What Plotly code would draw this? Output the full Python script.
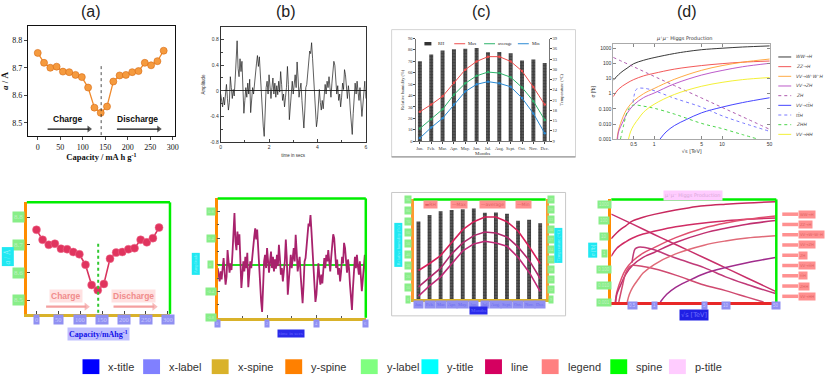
import numpy as np
import plotly.graph_objects as go

W, H = 830, 383
SERIF = "Liberation Serif"
SANS = "Liberation Sans"
SYM = "DejaVu Sans"

# ---------------- (a) lattice parameter during charge / discharge
CAPACITY = [0, 14, 28, 42, 56, 70, 84, 98, 112, 126, 140, 154, 168, 182, 196,
            210, 224, 238, 252, 266, 280]
LATTICE_A = [8.754, 8.718, 8.700, 8.704, 8.686, 8.684, 8.674, 8.666, 8.628, 8.555,
             8.536, 8.559, 8.650, 8.672, 8.674, 8.684, 8.688, 8.718, 8.709, 8.724, 8.762]
CAP_TICKS = [0, 50, 100, 150, 200, 250, 300]
A_TICKS = [8.5, 8.6, 8.7, 8.8]
TURN_CAPACITY = 141
TURN_SPAN = [8.455, 8.715]
CHARGE_ARROW = [22, 114]
DISCHARGE_ARROW = [176, 269]
ARROW_LEVEL = 8.477
LABEL_LEVEL = 8.514

# ---------------- (b) amplitude trace
TIME_S = np.linspace(0, 6, 151)
AMPLITUDE = [
    -0.05, -0.15, -0.25, -0.10, -0.22, -0.05, 0.10, -0.12, -0.30, -0.18, 0.22, 0.05, -0.12,
    0.02, -0.08, 0.18, 0.40, 0.78, 0.35, 0.22, 0.50, 0.30, 0.46, 0.10, -0.35,
    -0.15, 0.05, -0.10, 0.12, -0.05, 0.18, -0.34, -0.12, 0.05, -0.05, 0.15, 0.30, 0.42,
    0.55, 0.38, 0.53, 0.20, -0.10, -0.35, -0.55, -0.71, -0.30, 0.05, 0.15, -0.05,
    0.25, 0.10, -0.12, 0.05, 0.20, -0.05, 0.12, -0.10, 0.08, -0.06, 0.15, -0.02, 0.30,
    0.10, -0.15, -0.05, -0.25, -0.10, 0.05, 0.38, 0.10, -0.45, -0.25, 0.05, 0.15,
    -0.05, 0.10, 0.25, 0.05, 0.45, 0.20, -0.10, 0.02, 0.12, -0.15, -0.35, -0.58, -0.30,
    0.05, 0.10, 0.30, 0.55, 0.62, 0.58, 0.75, 0.50, 0.20, -0.10, -0.35, -0.56,
    -0.45, -0.20, 0.02, -0.18, -0.30, -0.15, -0.28, -0.08, 0.10, -0.05, 0.15, 0.05, 0.22,
    0.05, -0.10, 0.12, 0.30, 0.46, 0.40, 0.15, -0.05, 0.08, -0.15, -0.05, -0.25,
    -0.10, 0.12, 0.02, 0.33, 0.25, 0.05, -0.12, 0.08, -0.05, -0.30, -0.55, -0.68, -0.35,
    -0.05, 0.12, -0.05, 0.15, -0.02, -0.15, 0.05, -0.18, -0.40, -0.22, -0.05, 0.15, -0.12]
TIME_TICKS = [0, 2, 4, 6]
AMP_TICKS = [-0.8, -0.4, 0, 0.4, 0.8]
AMP_TEXT = ["-0.8", "-0.4", "0", "0.4", "0.8"]

# ---------------- (c) climate
MONTHS = ["Jan.", "Feb.", "Mar.", "Apr.", "May.", "Jun.", "Jul.", "Aug.", "Sept.",
          "Oct.", "Nov.", "Dec."]
RH = [70, 76, 79.4, 80.5, 81, 81.7, 78, 78.2, 77, 70.8, 71.6, 68.5]
T_MAX = [17.6, 19.7, 22.1, 26.1, 29.9, 32.3, 33.7, 33.7, 32.3, 29.5, 24.8, 19.7]
T_AVG = [12.7, 15.4, 18.3, 22.6, 25.9, 28.1, 29.2, 28.9, 27.7, 24.7, 20.7, 15.2]
T_MIN = [9.9, 13.0, 15.7, 19.7, 23.5, 25.6, 26.4, 25.9, 24.9, 21.6, 17.1, 11.3]
RH_TICKS = list(range(0, 91, 10))
T_TICKS = list(range(9, 40, 3))

# ---------------- (d) Higgs production cross sections (fb)
WWH_X = [0.25, 0.3, 0.35, 0.4, 0.5, 0.7, 1, 2, 3, 5, 10, 20, 50]
WWH_Y = [7.6, 18, 32, 48, 95, 160, 240, 450, 600, 800, 1000, 1200, 1420]
ZZH_X = [0.25, 0.3, 0.4, 0.5, 0.7, 1, 2, 5, 10, 20, 50]
ZZH_Y = [0.63, 2, 5, 8.5, 15, 22, 42, 72, 96, 120, 143]
VVWWH_X = [0.285, 0.3, 0.35, 0.4, 0.5, 0.7, 1, 2, 5, 10, 20, 50]
VVWWH_Y = [0.001, 0.004, 0.03, 0.1, 0.33, 1.0, 2.2, 9, 35, 71, 120, 193]
VVZH_X = [0.29, 0.3, 0.35, 0.4, 0.5, 0.7, 1, 2, 5, 10, 20, 50]
VVZH_Y = [0.001, 0.003, 0.015, 0.05, 0.18, 0.55, 1.1, 4.5, 17, 34, 60, 101]
ZH_X = [0.25, 0.5, 1, 2, 5, 10, 20, 50]
ZH_Y = [250, 60, 14, 3.4, 0.52, 0.125, 0.03, 0.0045]
VVTTH_X = [1.22, 1.5, 2, 3, 5, 10, 20, 50]
VVTTH_Y = [0.001, 0.003, 0.008, 0.02, 0.055, 0.13, 0.26, 0.54]
TTH_X = [0.49, 0.51, 0.54, 0.6, 0.7, 0.8, 1, 2, 5, 10, 20, 50]
TTH_Y = [0.26, 0.8, 1.8, 2.3, 2.3, 2.1, 1.6, 0.5, 0.13, 0.035, 0.012, 0.0033]
ZHH_X = [0.32, 0.36, 0.4, 0.45, 0.5, 0.7, 1, 2, 5, 10, 20, 34]
ZHH_Y = [0.001, 0.01, 0.06, 0.14, 0.18, 0.15, 0.11, 0.045, 0.011, 0.005, 0.002, 0.001]
VVHH_X = [0.42, 0.45, 0.5, 0.6, 0.7, 1, 2, 5, 10, 20, 50]
VVHH_Y = [0.001, 0.003, 0.008, 0.025, 0.06, 0.2, 0.9, 3.1, 5.6, 8.5, 11.7]
PROCESS_NAMES = ["WW→H", "ZZ→H", "VV→W⁺W⁻H", "VV→ZH", "ZH", "VV→tt̄H", "tt̄H", "ZHH", "VV→HH"]
PROCESS_X = [WWH_X, ZZH_X, VVWWH_X, VVZH_X, ZH_X, VVTTH_X, TTH_X, ZHH_X, VVHH_X]
PROCESS_Y = [WWH_Y, ZZH_Y, VVWWH_Y, VVZH_Y, ZH_Y, VVTTH_Y, TTH_Y, ZHH_Y, VVHH_Y]
ROOTS_TICKS = [0.5, 1, 5, 10, 50]
ROOTS_TEXT = ["0.5", "1", "5", "10", "50"]
SIGMA_TICKS = [0.001, 0.01, 0.1, 1, 10, 100, 1000]
SIGMA_TEXT = ["0.001", "0.010", "0.100", "1", "10", "100", "1000"]

# ---------------- annotation classes
CLASS_NAMES = ["x-title", "x-label", "x-spine", "y-spine", "y-label", "y-title",
               "line", "legend", "spine", "p-title"]
CLASS_COLORS = ["#0000ff", "#8080ff", "#d9b22a", "#ff8000", "#80ff80", "#00ffff",
                "#d50060", "#ff8080", "#00ff00", "#ffccff"]

# styling of the original (top) charts
ORIG_D_COLORS = ["#222222", "#f04545", "#ffa030", "#b448c4", "#a64aa6", "#3030ff",
                 "#6a6aff", "#38d038", "#f2ee20"]
ORIG_D_DASH = ["solid", "solid", "solid", "solid", "dot", "solid", "dot", "dot", "solid"]
# styling of the annotated (bottom) charts
MARK_D_COLORS = ["#c8285e", "#d02c64", "#e05070", "#c03070", "#c8306a", "#a02c8c",
                 "#c03a78", "#d04a70", "#e06a78"]

X_LABEL_BG, X_LABEL_FG = "#9090f2", "#c8c8ff"
Y_LABEL_BG, Y_LABEL_FG = "#88ee88", "#c2f2c2"
Y_TITLE_BG, Y_TITLE_FG = "#20e8f2", "#8cf4fa"
LEG_BG, LEG_FG = "#ff9090", "#e06060"
SPINE_W = 2.5


def px(x):
    return x / W


def py(y):
    return 1 - y / H


def xdom(l, r):
    return [l / W, r / W]


def ydom(t, b):
    return [1 - b / H, 1 - t / H]


def ann(text, x, y, xref="paper", yref="paper", size=8, color="#000", family=SANS, **kw):
    d = dict(text=text, x=x, y=y, xref=xref, yref=yref, showarrow=False,
             xanchor="center", yanchor="middle",
             font=dict(size=size, color=color, family=family))
    d.update(kw)
    return d


def box(text, x, y, bg, fg, xref="paper", yref="paper", size=6, family=SERIF, **kw):
    return ann(text, x, y, xref, yref, size, fg, family, bgcolor=bg, borderpad=1, **kw)


def arrow_trace(span, xa, ya, color, width, head):
    # shaft plus a triangular head at the far end
    return go.Scatter(x=span, y=[ARROW_LEVEL] * 2, xaxis=xa, yaxis=ya, mode="lines+markers",
                      line=dict(color=color, width=width),
                      marker=dict(symbol=["line-ns", "triangle-right"], size=[0, head],
                                  color=color, line_width=0))


fig = go.Figure()
shapes, anns = [], []

# ======================= TOP ROW: original charts =======================
# (a)
fig.add_trace(go.Scatter(x=CAPACITY, y=LATTICE_A, xaxis="x", yaxis="y", mode="lines+markers",
                         line=dict(color="#f08a2c", width=1.3),
                         marker=dict(size=7, color="#f59a3e", line=dict(color="#d66a12", width=0.6))))
fig.add_trace(go.Scatter(x=[TURN_CAPACITY] * 2, y=TURN_SPAN, xaxis="x", yaxis="y", mode="lines",
                         line=dict(color="#222", width=0.8, dash="dot")))
for lbl, span in (("Charge", CHARGE_ARROW), ("Discharge", DISCHARGE_ARROW)):
    anns.append(ann(f"<b>{lbl}</b>", sum(span) / 2, LABEL_LEVEL, "x", "y", 8.5, "#111"))
    fig.add_trace(arrow_trace(span, "x", "y", "#111", 1.2, 6))

# (b)
fig.add_trace(go.Scatter(x=TIME_S, y=AMPLITUDE, xaxis="x2", yaxis="y2", mode="lines",
                         line=dict(color="#1a1a1a", width=0.7)))

# (c)
fig.add_trace(go.Bar(x=MONTHS, y=RH, xaxis="x3", yaxis="y3", width=0.35,
                     marker=dict(color="#3c3c3c", line_width=0,
                                 pattern=dict(shape=".", fgcolor="#bbbbbb", size=3, solidity=0.25))))
for ys, col in ((T_MAX, "#ee4c4c"), (T_AVG, "#2db36b"), (T_MIN, "#2a8ad4")):
    fig.add_trace(go.Scatter(x=MONTHS, y=ys, xaxis="x3", yaxis="y4", mode="lines+markers",
                             line=dict(color=col, width=1), marker=dict(size=2.5, color=col)))
# (c) in-plot legend
shapes.append(dict(type="rect", xref="paper", yref="paper", x0=px(426), x1=px(433),
                   y0=py(44), y1=py(40.5), fillcolor="#333", line_width=0))
for name, col, lx in (("RH", None, 426), ("Max", "#ee4c4c", 456), ("average", "#2db36b", 486),
                      ("Min", "#2a8ad4", 520)):
    if col:
        shapes.append(dict(type="line", xref="paper", yref="paper", x0=px(lx), x1=px(lx + 11),
                           y0=py(42.3), y1=py(42.3), line=dict(color=col, width=1)))
    anns.append(ann(name, px(lx + 12), py(42.3), size=4.5, family=SERIF, color="#222",
                    xanchor="left"))
shapes.append(dict(type="rect", xref="paper", yref="paper", x0=px(393), x1=px(578),
                   y0=py(157), y1=py(28), line=dict(color="#d4d4d4", width=1)))
shapes.append(dict(type="line", xref="paper", yref="paper", x0=px(393), x1=px(578),
                   y0=py(157), y1=py(157), line=dict(color="#999", width=1.2)))

# (d)
for name, xs, ys, col, dash in zip(PROCESS_NAMES, PROCESS_X, PROCESS_Y, ORIG_D_COLORS, ORIG_D_DASH):
    fig.add_trace(go.Scatter(x=xs, y=ys, xaxis="x4", yaxis="y5", mode="lines", name=name,
                             line=dict(color=col, width=0.9, dash=dash, shape="spline")))
for i, (name, col, dash) in enumerate(zip(PROCESS_NAMES, ORIG_D_COLORS, ORIG_D_DASH)):
    ly = 55.7 + i * 9.8
    shapes.append(dict(type="line", xref="paper", yref="paper", x0=px(782), x1=px(795),
                       y0=py(ly), y1=py(ly), line=dict(color=col, width=0.9, dash=dash)))
    anns.append(ann(f"<i>{name}</i>", px(798), py(ly), size=4.5, color="#444", family=SYM,
                    xanchor="left"))
anns.append(ann("<i>μ⁺μ⁻</i> Higgs Production", px(688), py(37), size=5, color="#333", family=SYM))

# panel letters
for letter, cx in (("(a)", 91), ("(b)", 287), ("(c)", 483), ("(d)", 690)):
    anns.append(ann(letter, px(cx), py(10), size=16, color="#222"))


# ======================= BOTTOM ROW: annotated charts =======================
def frame(xr, yr, top=True, right=True):
    if top:
        shapes.append(dict(type="line", xref=f"{xr} domain", yref=f"{yr} domain", x0=0, x1=1,
                           y0=1, y1=1, line=dict(color="#00ee00", width=SPINE_W)))
    if right:
        shapes.append(dict(type="line", xref=f"{xr} domain", yref=f"{yr} domain", x0=1, x1=1,
                           y0=0, y1=1, line=dict(color="#00ee00", width=SPINE_W)))


# (a) annotated
fig.add_trace(go.Scatter(x=CAPACITY, y=LATTICE_A, xaxis="x5", yaxis="y6", mode="lines+markers",
                         line=dict(color="#d8345e", width=1.6),
                         marker=dict(size=8, color="#e0345e", line=dict(color="#f07090", width=0.5))))
fig.add_trace(go.Scatter(x=[TURN_CAPACITY] * 2, y=TURN_SPAN, xaxis="x5", yaxis="y6", mode="lines",
                         line=dict(color="#30c830", width=2, dash="dot")))
for lbl, span in (("Charge", CHARGE_ARROW), ("Discharge", DISCHARGE_ARROW)):
    anns.append(ann(f"<b>{lbl}</b>", sum(span) / 2, LABEL_LEVEL, "x5", "y6", 8.5, "#f08c8c",
                    bgcolor="rgba(255,170,170,0.35)"))
    fig.add_trace(arrow_trace(span, "x5", "y6", "#f4a0a0", 2.2, 7))
frame("x5", "y6")
for v in CAP_TICKS:
    anns.append(box(str(v), v, py(322), X_LABEL_BG, X_LABEL_FG, xref="x5", size=6.5))
for v in A_TICKS:
    anns.append(box(f"{v:.1f}", px(18), v, Y_LABEL_BG, Y_LABEL_FG, yref="y6", size=7))
anns.append(box("<i>a</i> / Å", px(7), py(258), Y_TITLE_BG, Y_TITLE_FG, size=7.5, textangle=-90))
anns.append(ann("<b>Capacity/mAhg<sup>-1</sup></b>", px(98), py(336), size=8, color="#1010e8",
                family=SERIF, bgcolor="rgba(70,70,255,0.35)"))

# (b) annotated
fig.add_trace(go.Scatter(x=TIME_S, y=AMPLITUDE, xaxis="x6", yaxis="y7", mode="lines",
                         line=dict(color="#a8226c", width=1.8)))
frame("x6", "y7")
for v in TIME_TICKS:
    anns.append(box(str(v), v, py(326), X_LABEL_BG, X_LABEL_FG, xref="x6", size=4.5))
for v, t in zip(AMP_TICKS, AMP_TEXT):
    anns.append(box(t, px(211), v, Y_LABEL_BG, Y_LABEL_FG, yref="y7", size=4.5))
anns.append(box("Amplitude", px(196), py(265), Y_TITLE_BG, Y_TITLE_FG, size=4.5, textangle=-90))
anns.append(box("time in secs", px(292), py(336), "#2a2aea", "#6464ff", size=5))

# (c) annotated
fig.add_trace(go.Bar(x=MONTHS, y=RH, xaxis="x7", yaxis="y8", width=0.35,
                     marker=dict(color="#3c3c3c", line_width=0,
                                 pattern=dict(shape=".", fgcolor="#bbbbbb", size=3, solidity=0.25))))
for ys, col in ((T_MAX, "#d81f5a"), (T_AVG, "#b22a6e"), (T_MIN, "#c02a78")):
    fig.add_trace(go.Scatter(x=MONTHS, y=ys, xaxis="x7", yaxis="y9", mode="lines",
                             line=dict(color=col, width=1.6)))
frame("x7", "y8", right=False)
for m in MONTHS:
    anns.append(box(m, m, py(306), X_LABEL_BG, "#6a6af0", xref="x7", size=4.5))
for v in RH_TICKS:
    anns.append(box(str(v), px(409), v, Y_LABEL_BG, Y_LABEL_FG, yref="y8", size=4))
for v in T_TICKS:
    anns.append(box(str(v), px(553), v, Y_LABEL_BG, Y_LABEL_FG, yref="y9", size=4))
anns.append(box("Relative humidity (%)", px(400), py(246), Y_TITLE_BG, Y_TITLE_FG, size=4.5,
                textangle=-90))
anns.append(box("Temperature (°C)", px(561), py(247), Y_TITLE_BG, Y_TITLE_FG, size=4.5,
                textangle=-90))
anns.append(box("Months", px(480), py(313), "#2a2aea", "#6464ff", size=5))
for name, cx in (("▬RH", 432), ("—Max", 461), ("—average", 494), ("—Min", 526)):
    anns.append(box(name, px(cx), py(205), LEG_BG, LEG_FG, size=4.5, family=SYM))
shapes.append(dict(type="rect", xref="paper", yref="paper", x0=px(393), x1=px(568),
                   y0=py(318), y1=py(193), line=dict(color="#c8c8c8", width=1)))

# (d) annotated
for name, xs, ys, col in zip(PROCESS_NAMES, PROCESS_X, PROCESS_Y, MARK_D_COLORS):
    fig.add_trace(go.Scatter(x=xs, y=ys, xaxis="x8", yaxis="y10", mode="lines", name=name,
                             line=dict(color=col, width=1.5, shape="spline")))
frame("x8", "y10")
for v, t in zip(ROOTS_TICKS, ROOTS_TEXT):
    anns.append(box(t, np.log10(v), py(308), X_LABEL_BG, X_LABEL_FG, xref="x8", size=4.5,
                    family=SANS))
for v, t in zip(SIGMA_TICKS, SIGMA_TEXT):
    anns.append(box(t, px(607), np.log10(v), Y_LABEL_BG, Y_LABEL_FG, yref="y10", size=4.5,
                    family=SANS))
anns.append(box("√s [TeV]", px(697), py(317), "#2020e4", "#7070ff", size=6.5, family=SYM))
anns.append(box("σ [fb]", px(595), py(251), Y_TITLE_BG, Y_TITLE_FG, size=5, family=SANS,
                textangle=-90))
anns.append(box("μ⁺μ⁻ Higgs Production", px(696), py(196), "#ffccff", "#d8a8d8", size=5,
                family=SYM))
for i, name in enumerate(PROCESS_NAMES):
    ly = 215 + i * 10.4
    shapes.append(dict(type="line", xref="paper", yref="paper", x0=px(786), x1=px(802),
                       y0=py(ly), y1=py(ly), line=dict(color=LEG_BG, width=3.5)))
    anns.append(box(name, px(802), py(ly), LEG_BG, LEG_FG, size=3.8, family=SYM,
                    xanchor="left"))

# ======================= class legend =======================
LEG_X = [82, 143, 212, 286, 362, 423, 487, 544, 613, 672]
for name, col, lx in zip(CLASS_NAMES, CLASS_COLORS, LEG_X):
    shapes.append(dict(type="rect", xref="paper", yref="paper", x0=px(lx), x1=px(lx + 17),
                       y0=py(377), y1=py(362), fillcolor=col, line_width=0))
    anns.append(ann(name, px(lx + 24), py(370), size=11, color="#333", xanchor="left"))

# ======================= axes =======================
no_grid = dict(showgrid=False, zeroline=False)
lay = dict(
    width=W, height=H, margin=dict(l=0, r=0, t=0, b=0), paper_bgcolor="white",
    plot_bgcolor="white", showlegend=False, bargap=0.6,
    # (a)
    xaxis=dict(domain=xdom(27, 175), anchor="y", range=[-22, 305], tickvals=CAP_TICKS,
               ticks="outside", ticklen=3, showline=True, linecolor="#111", mirror=True,
               tickfont=dict(family=SERIF, size=8, color="#111"),
               title=dict(text="<b>Capacity / mA h g<sup>-1</sup></b>",
                          font=dict(family=SERIF, size=8.5, color="#111"), standoff=3), **no_grid),
    yaxis=dict(domain=ydom(24, 136), anchor="x", range=[8.451, 8.853], tickvals=A_TICKS,
               tickformat=".1f", ticks="outside", ticklen=3, showline=True, linecolor="#111",
               mirror=True, tickfont=dict(family=SERIF, size=8, color="#111"),
               title=dict(text="<b><i>a</i> / Å</b>", font=dict(family=SERIF, size=9, color="#111"),
                          standoff=3), **no_grid),
    # (b)
    xaxis2=dict(domain=xdom(221, 367), anchor="y2", range=[0, 6], tickvals=TIME_TICKS,
                ticks="inside", ticklen=3, minor=dict(tickvals=[1, 3, 5], ticks="inside", ticklen=2),
                showline=True, linecolor="#333", linewidth=0.8, mirror=True,
                tickfont=dict(family=SANS, size=5, color="#333"),
                title=dict(text="time in secs", font=dict(family=SANS, size=4.5, color="#333"),
                           standoff=4), **no_grid),
    yaxis2=dict(domain=ydom(25, 142), anchor="x2", range=[-0.8, 1.0], tickvals=AMP_TICKS,
                ticktext=AMP_TEXT, ticks="inside", ticklen=3,
                minor=dict(tickvals=[-0.6, -0.2, 0.2, 0.6], ticks="inside", ticklen=2),
                showline=True, linecolor="#333", linewidth=0.8, mirror=True, showgrid=False,
                zeroline=True, zerolinecolor="#333", zerolinewidth=0.7,
                tickfont=dict(family=SANS, size=5, color="#333"),
                title=dict(text="Amplitude", font=dict(family=SANS, size=4.5, color="#333"),
                           standoff=4)),
    # (c)
    xaxis3=dict(domain=xdom(418, 551), anchor="y3", type="category", range=[-0.3, 11.35],
                ticks="outside", ticklen=2, tickangle=0, showline=True, linecolor="#777",
                tickfont=dict(family=SERIF, size=4.5, color="#333"),
                title=dict(text="Months", font=dict(family=SERIF, size=5, color="#333"), standoff=1),
                **no_grid),
    yaxis3=dict(domain=ydom(37, 141), anchor="x3", range=[0, 90], tickvals=RH_TICKS,
                ticks="outside", ticklen=2, showline=True, linecolor="#777",
                tickfont=dict(family=SERIF, size=4.5, color="#333"),
                title=dict(text="Relative humidity (%)", font=dict(family=SERIF, size=4.5, color="#333"),
                           standoff=3), **no_grid),
    yaxis4=dict(domain=ydom(37, 141), anchor="x3", overlaying="y3", side="right", range=[9, 39],
                tickvals=T_TICKS, ticks="outside", ticklen=2, showline=True, linecolor="#777",
                tickfont=dict(family=SERIF, size=4.5, color="#333"),
                title=dict(text="Temperature (°C)", font=dict(family=SERIF, size=4.5, color="#333"),
                           standoff=3), **no_grid),
    # (d)
    xaxis4=dict(domain=xdom(616, 774), anchor="y5", type="log", range=[-0.6, 1.71],
                tickvals=ROOTS_TICKS, ticktext=ROOTS_TEXT, ticks="inside", ticklen=3,
                showline=True, linecolor="#aaa", mirror="allticks", tickcolor="#888",
                tickfont=dict(family=SANS, size=5, color="#333"),
                title=dict(text="√s [TeV]", font=dict(family=SYM, size=5, color="#333"), standoff=3),
                **no_grid),
    yaxis5=dict(domain=ydom(43, 139), anchor="x4", type="log", range=[-3, 3.25],
                tickvals=SIGMA_TICKS, ticktext=SIGMA_TEXT, ticks="inside", ticklen=3,
                showline=True, linecolor="#aaa", mirror="allticks", tickcolor="#888",
                tickfont=dict(family=SANS, size=5, color="#333"),
                title=dict(text="σ [fb]", font=dict(family=SANS, size=5, color="#333"), standoff=3),
                **no_grid),
    # (a) annotated
    xaxis5=dict(domain=xdom(26, 170), anchor="y6", range=[-22, 305], tickvals=CAP_TICKS,
                showticklabels=False, ticks="inside", ticklen=3, tickcolor="#444",
                showline=True, linecolor="#d9b22a", linewidth=SPINE_W, **no_grid),
    yaxis6=dict(domain=ydom(203, 316), anchor="x5", range=[8.451, 8.853], tickvals=A_TICKS,
                showticklabels=False, ticks="inside", ticklen=3, tickcolor="#444",
                showline=True, linecolor="#ff8c00", linewidth=SPINE_W, **no_grid),
    # (b) annotated
    xaxis6=dict(domain=xdom(218, 367), anchor="y7", range=[0, 6], tickvals=TIME_TICKS,
                minor=dict(tickvals=[1, 3, 5], ticks="inside", ticklen=2),
                showticklabels=False, ticks="inside", ticklen=3, tickcolor="#555",
                showline=True, linecolor="#d9b22a", linewidth=SPINE_W, **no_grid),
    yaxis7=dict(domain=ydom(199, 320), anchor="x6", range=[-0.8, 1.0], tickvals=AMP_TICKS,
                minor=dict(tickvals=[-0.6, -0.2, 0.2, 0.6], ticks="inside", ticklen=2),
                showticklabels=False, ticks="inside", ticklen=3, tickcolor="#555",
                showline=True, linecolor="#ff8c00", linewidth=SPINE_W, showgrid=False,
                zeroline=True, zerolinecolor="#22e022", zerolinewidth=2),
    # (c) annotated
    xaxis7=dict(domain=xdom(415, 548), anchor="y8", type="category", range=[-0.45, 11.5],
                showticklabels=False, showline=True, linecolor="#d9b22a", linewidth=SPINE_W,
                **no_grid),
    yaxis8=dict(domain=ydom(200, 301), anchor="x7", range=[0, 90], tickvals=RH_TICKS,
                showticklabels=False, showline=True, linecolor="#ff9a30", linewidth=SPINE_W,
                **no_grid),
    yaxis9=dict(domain=ydom(200, 301), anchor="x7", overlaying="y8", side="right", range=[9, 39],
                tickvals=T_TICKS, showticklabels=False, showline=True, linecolor="#ff9a30",
                linewidth=SPINE_W, **no_grid),
    # (d) annotated
    xaxis8=dict(domain=xdom(614, 780), anchor="y10", type="log", range=[-0.6, 1.71],
                tickvals=ROOTS_TICKS, showticklabels=False, showline=True, linecolor="#e82828",
                linewidth=SPINE_W, **no_grid),
    yaxis10=dict(domain=ydom(200, 304), anchor="x8", type="log", range=[-3, 3.3],
                 tickvals=SIGMA_TICKS, showticklabels=False, showline=True, linecolor="#ff8c00",
                 linewidth=SPINE_W, **no_grid),
    shapes=shapes,
    annotations=anns,
)
fig.update_layout(**lay)
# the page body has a default 8px margin; drop it so the 830x383 figure fills the window
fig.write_html("out.html", config={"displayModeBar": False},
               post_script="document.body.style.margin='0px';")
